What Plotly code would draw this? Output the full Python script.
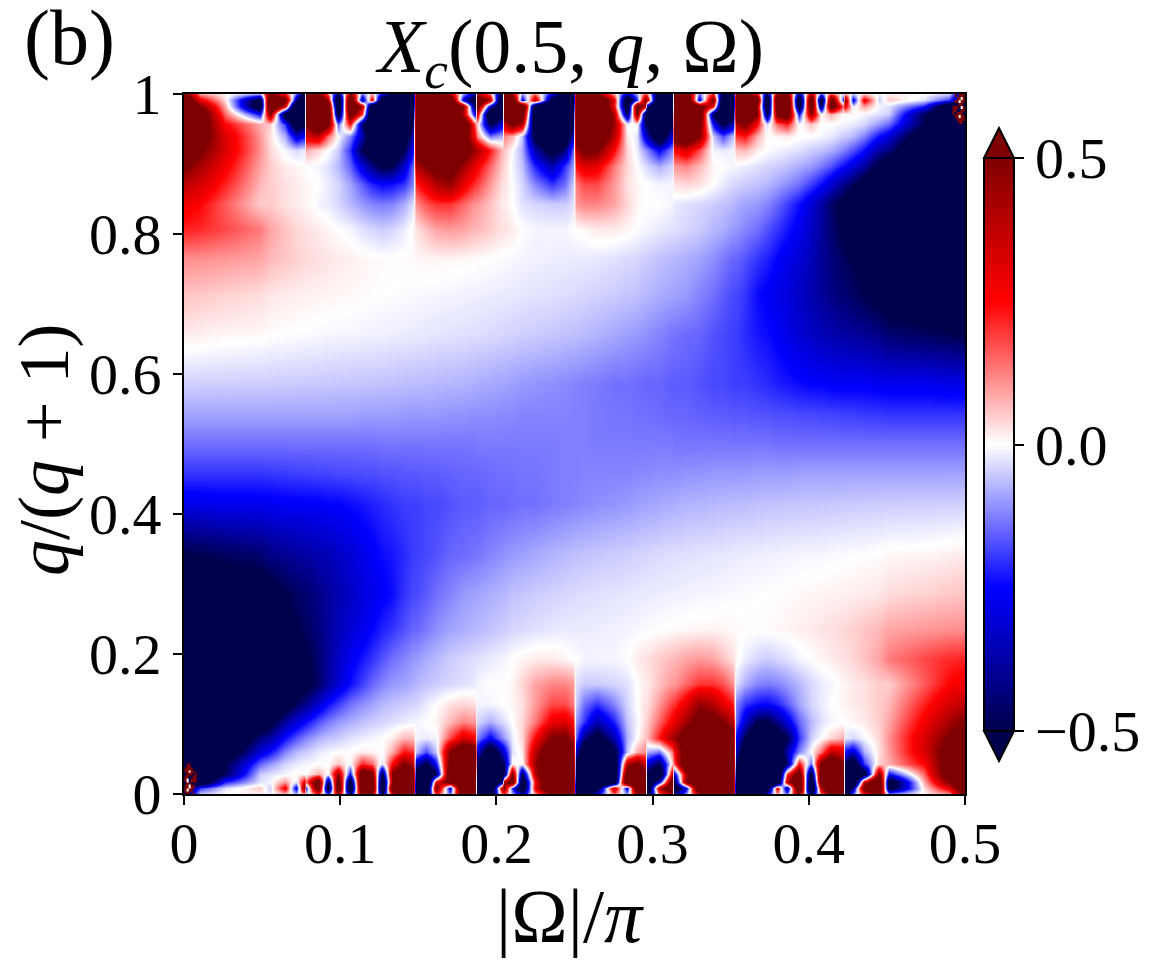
import numpy as np
import plotly.graph_objects as go

# |Omega|/pi positions, packed tighter around the sharp lobe dividers
x_vals = [
    0, .0102, .0262, .0487, .0551, .0647, .0717, .0768, .0781, .0858,
    .0922, .0986, .1063, .1140, .1204, .1268, .1332, .1408, .1466, .1485,
    .1549, .1613, .1703, .1786, .1863, .1876, .1959, .2036, .2049, .2100,
    .2164, .2247, .2356, .2439, .2490, .2510, .2561, .2644, .2753, .2836,
    .2900, .2951, .2964, .3041, .3124, .3137, .3214, .3297, .3387, .3451,
    .3515, .3534, .3592, .3668, .3732, .3796, .3860, .3937, .4014, .4078,
    .4142, .4219, .4232, .4283, .4353, .4449, .4513, .4738, .4898, .5,
]
y_vals = [
    0, .0086, .0171, .0286, .0429, .06, .08, .1029, .1286, .1571, .1929,
    .2357, .2857, .3429, .4143, .4571, .5, .5429, .5857, .6571, .7143, .7643, .8071,
    .8429, .8714, .8971, .92, .94, .9571, .9714, .9829, .9914, 1,
]

# X_c, in hundredths, one row per y value
z_rows = [
    [-50,-5,0,2,-2,6,-6,10,-5,20, -20,40,-40,50,45,-50,30,55,60,-60, -60,25,-15,70,70,-70,-70,15,20,-8, -35,10,50,70,70,-70,-60,-30,15,-10, 40,60,-60,15,40,-40,-10,40,65,70, 70,-70,-70,-50,-30,10,-15,50,-50,15, 55,60,-60,-15,25,50,-10,1,10,60],
    [-60,-20,-3,5,-5,30,-30,50,-20,70, -70,80,-80,85,80,-85,70,85,85,-85, -85,55,-30,90,85,-85,-90,40,50,-20, -75,30,85,90,90,-85,-85,-60,40,-30, 80,85,-85,40,75,-70,-30,80,90,90, 88,-85,-90,-88,-70,30,-40,85,-88,40, 85,85,-88,-40,60,85,-60,3,30,75],
    [-75,-70,-22,-3,-1,10,-3,30,15,70, -50,75,-70,85,70,-75,45,85,80,-75, -90,30,60,90,85,-85,-95,-40,40,70, -70,25,92,95,90,-75,-92,-95,-70,85, 90,70,-70,-30,65,-55,50,90,95,92, 85,-75,-92,-95,-95,-80,40,85,-85,70, 92,80,-85,-90,35,85,-65,8,50,80],
    [-80,-70,-48,-5,-3,-1,1,0,0,8, 0,45,-25,70,55,-55,50,80,70,-60, -85,-50,75,90,80,-70,-90,-65,-55,55, -50,40,90,92,85,-60,-90,-95,-80,70, 85,60,-55,-80,35,-30,40,92,95,90, 80,-60,-90,-95,-95,-88,20,65,-65,75, 90,70,-70,-90,-65,50,-25,15,65,80],
    [-90,-75,-50,-15,-10,-4,-2,-1,-1,0, 0,6,-1,22,15,-4,25,52,40,-35, -52,-25,60,85,75,-50,-85,-50,-45,1, -1,45,85,88,75,-50,-85,-90,-70,40, 55,35,-30,-50,5,15,80,90,92,88, 75,-45,-80,-88,-88,-80,-45,25,-15,55, 75,50,-50,-65,-20,5,8,25,62,75],
    [-95,-85,-65,-30,-24,-12,-7,-5,-5,-2, -1,0,0,2,1,0,8,24,20,-6, -18,-5,50,75,65,-30,-70,-35,-30,-3, 2,38,72,75,60,-35,-68,-80,-55,-6, 8,12,-8,-14,12,25,65,85,88,80, 70,-35,-65,-80,-82,-72,-35,-12,0,14, 38,32,-25,-32,-8,3,10,32,60,70],
    [-95,-90,-75,-43,-38,-24,-17,-13,-12,-8, -6,-5,-3,-2,-1,0,2,7,6,-1, -2,-1,18,32,25,-12,-26,-12,-10,-2, 4,25,52,55,40,-15,-42,-58,-36,-8, 0,6,7,23,42,44,62,78,80,72, 58,-25,-50,-70,-70,-60,-50,-20,-5,0, 4,8,-2,-4,-1,4,11,32,52,62],
    [-95,-93,-87,-60,-55,-38,-30,-25,-24,-17, -13,-10,-8,-6,-5,-4,-3,-2,-1,-1, 0,1,7,12,10,-4,-8,-4,-3,0, 4,13,29,31,24,-10,-20,-36,-22,-6, -1,4,5,15,27,29,44,58,58,50, 40,-15,-32,-50,-52,-42,-30,-15,-7,-3, -1,0,0,1,2,5,9,27,42,52],
    [-90,-90,-87,-75,-70,-58,-48,-42,-41,-31, -24,-19,-14,-11,-9,-7,-6,-5,-4,-4, -2,0,3,4,3,-1,-1,0,0,1, 3,10,18,18,13,-5,-14,-20,-12,-4, 0,3,3,10,19,20,30,46,40,30, 22,-12,-20,-24,-25,-22,-16,-9,-4,-2, 0,1,1,2,3,5,7,22,33,38],
    [-85,-85,-83,-78,-73,-66,-60,-55,-54,-46, -38,-31,-24,-19,-15,-12,-10,-9,-8,-7, -6,-5,-4,-3,-2,-1,0,0,0,1, 4,9,12,12,10,-3,-5,-5,-4,-3, 0,2,2,6,10,10,15,20,20,17, 11,-3,-8,-12,-13,-12,-10,-7,-4,-2, -1,1,1,2,3,5,5,16,25,28],
    [-80,-80,-78,-72,-66,-60,-56,-53,-52,-45, -39,-33,-27,-23,-20,-17,-14,-12,-10,-10, -8,-7,-5,-4,-3,-3,-2,-1,-1,0, 1,2,2,1,0,0,-1,-1,-1,0, 2,3,3,5,7,7,9,10,9,6, 3,1,-2,-4,-5,-4,-3,-1,0,1, 2,3,3,4,6,9,13,18,21,22],
    [-70,-70,-68,-63,-57,-52,-50,-48,-47,-43, -39,-35,-31,-28,-25,-22,-20,-17,-15,-15, -13,-11,-9,-8,-7,-7,-6,-5,-5,-4, -3.6,-3,-2.4,-2.1,-2,-2,-1.9,-1.7,-1.4,-1.1, -.8,-.5,-.4,0,.3,.4,.7,.9,1,.9, .6,.5,.4,.3,.4,.7,1,1.6,2.1,2.6, 3.1,3.8,3.9,4.6,5.6,7,8.8,10,10.8,11],
    [-60,-60,-59,-57,-54,-50,-47,-45,-45,-42, -39,-36,-33,-30,-28,-26,-24,-20,-18,-18, -16,-14,-12,-10,-9,-9,-8,-7,-7,-6, -5.6,-5,-4.4,-3.9,-3.6,-3.5,-3.3,-3,-2.7,-2.4, -2.2,-2,-2,-1.8,-1.5,-1.5,-1.3,-1.1,-.9,-.7, -.5,-.4,-.3,-.1,0,.2,.4,.7,.9,1.1, 1.3,1.5,1.6,1.8,2,2.4,3.5,4.5,5.5,6],
    [-50,-49,-47,-45,-42,-40,-39,-38,-38,-36, -35,-33,-31,-28,-26,-24,-23,-21,-19,-19, -18,-17,-15,-14.5,-13.5,-13.5,-12,-11,-10.5,-10, -9.5,-8.5,-7.5,-6.8,-6.4,-6.2,-6,-5.5,-5,-4.7, -4.3,-4.1,-4,-3.6,-3.3,-3.2,-3,-2.8,-2.5,-2.3, -2.1,-2,-1.9,-1.7,-1.5,-1.4,-1.2,-1,-.9,-.8, -.6,-.4,-.4,-.2,0,.3,.7,1,1.5,2],
    [-28,-28,-27,-27,-27,-26,-26,-26,-26,-26, -25,-25,-24,-23,-22,-21,-20,-19,-19,-19, -18,-18,-17,-16,-16,-16,-15,-15,-15,-14.5, -14,-14,-13,-12.5,-12,-12,-11.5,-11,-10.5,-10, -9.5,-9,-9,-8.5,-8,-8,-7.5,-7.2,-7,-6.8, -6.6,-6.6,-6.4,-6.2,-6,-5.9,-5.8,-5.7,-5.6,-5.5, -5.4,-5.3,-5.3,-5.2,-5.1,-5,-4.9,-4.8,-4.7,-4.6],
    [-20,-20,-20,-20,-19.5,-19.5,-19,-19,-19,-18.5, -18.5,-18,-18,-17.5,-17.5,-17,-17,-16.5,-16.5,-16.5, -16,-16,-15.5,-15,-15,-15,-14.5,-14,-14,-14, -13.5,-13.5,-13,-12.5,-12.5,-12.5,-12,-12,-12,-12, -11.5,-11.5,-11.5,-11,-11,-11,-10.5,-10.5,-10,-10, -10,-10,-10,-9.5,-9.5,-9.5,-9.5,-9,-9,-9, -9,-9,-9,-9,-9,-9,-9,-9,-9,-9],
    [-14,-14,-14,-14,-14,-14,-14,-14,-14,-14, -14,-14,-14,-14,-14,-13.5,-13.5,-13.5,-13.5,-13.5, -13.5,-13.5,-13.5,-13.5,-13.5,-13,-13,-13,-13,-13, -13,-13,-13,-12.5,-12.5,-12.5,-12.5,-13,-13,-13, -13,-13,-13,-13,-13,-13.5,-13.5,-13.5,-13.5,-13.5, -13.5,-13.5,-13.5,-13.5,-13.5,-14,-14,-14,-14,-14, -14,-14,-14,-14,-14,-14,-14,-14,-14,-14],
    [-9,-9,-9,-9,-9,-9,-9,-9,-9,-9, -9,-9,-9,-9.5,-9.5,-9.5,-9.5,-10,-10,-10, -10,-10,-10.5,-10.5,-11,-11,-11,-11.5,-11.5,-11.5, -12,-12,-12,-12,-12.5,-12.5,-12.5,-13,-13.5,-13.5, -14,-14,-14,-14.5,-15,-15,-15,-15.5,-16,-16, -16.5,-16.5,-16.5,-17,-17,-17.5,-17.5,-18,-18,-18.5, -18.5,-19,-19,-19,-19.5,-19.5,-20,-20,-20,-20],
    [-4.6,-4.7,-4.8,-4.9,-5,-5.1,-5.2,-5.3,-5.3,-5.4, -5.5,-5.6,-5.7,-5.8,-5.9,-6,-6.2,-6.4,-6.6,-6.6, -6.8,-7,-7.2,-7.5,-8,-8,-8.5,-9,-9,-9.5, -10,-10.5,-11,-11.5,-12,-12,-12.5,-13,-14,-14, -14.5,-15,-15,-15,-16,-16,-16,-17,-18,-18, -19,-19,-19,-20,-21,-22,-23,-24,-25,-25, -26,-26,-26,-26,-26,-27,-27,-27,-28,-28],
    [2,1.5,1,.7,.3,0,-.2,-.4,-.4,-.6, -.8,-.9,-1,-1.2,-1.4,-1.5,-1.7,-1.9,-2,-2.1, -2.3,-2.5,-2.8,-3,-3.2,-3.3,-3.6,-4,-4.1,-4.3, -4.7,-5,-5.5,-6,-6.2,-6.4,-6.8,-7.5,-8.5,-9.5, -10,-10.5,-11,-12,-13.5,-13.5,-14.5,-15,-17,-18, -19,-19,-21,-23,-24,-26,-28,-31,-33,-35, -36,-38,-38,-39,-40,-42,-45,-47,-49,-50],
    [6,5.5,4.5,3.5,2.4,2,1.8,1.6,1.5,1.3, 1.1,.9,.7,.4,.2,0,-.1,-.3,-.4,-.5, -.7,-.9,-1.1,-1.3,-1.5,-1.5,-1.8,-2,-2,-2.2, -2.4,-2.7,-3,-3.3,-3.5,-3.6,-3.9,-4.4,-5,-5.6, -6,-7,-7,-8,-9,-9,-10,-12,-14,-16, -18,-18,-20,-24,-26,-28,-30,-33,-36,-39, -42,-45,-45,-47,-50,-54,-57,-59,-60,-60],
    [11,10.8,10,8.8,7,5.6,4.6,3.9,3.8,3.1, 2.6,2.1,1.6,1,.7,.4,.3,.4,.5,.6, .9,1,.9,.7,.4,.3,0,-.4,-.5,-.8, -1.1,-1.4,-1.7,-1.9,-2,-2,-2.1,-2.4,-3,-3.6, -4,-5,-5,-6,-7,-7,-8,-9,-11,-13, -15,-15,-17,-20,-22,-25,-28,-31,-35,-39, -43,-47,-48,-50,-52,-57,-63,-68,-70,-70],
    [22,21,18,13,9,6,4,3,3,2, 1,0,-1,-3,-4,-5,-4,-2,1,3, 6,9,10,9,7,7,5,3,3,2, 0,-1,-1,-1,0,0,1,2,2,1, 0,-1,-1,-2,-3,-3,-4,-5,-7,-8, -10,-10,-12,-14,-17,-20,-23,-27,-33,-39, -45,-52,-53,-56,-60,-66,-72,-78,-80,-80],
    [28,25,16,5,5,3,2,1,1,-1, -2,-4,-7,-10,-12,-13,-12,-8,-3,11, 17,20,20,15,10,10,6,2,2,0, -3,-4,-5,-5,-3,10,12,12,9,4, 1,0,0,0,-1,-2,-3,-4,-5,-6, -7,-8,-9,-10,-12,-15,-19,-24,-31,-38, -46,-54,-55,-60,-66,-73,-78,-83,-85,-85],
    [38,33,22,7,5,3,2,1,1,0, -2,-4,-9,-16,-22,-25,-24,-20,-12,22, 30,40,46,30,20,19,10,3,3,0, -4,-12,-20,-14,-5,13,18,18,10,3, 1,0,0,-1,-1,3,4,3,0,-2, -4,-4,-5,-6,-7,-9,-11,-14,-19,-24, -31,-41,-42,-48,-58,-70,-75,-87,-90,-90],
    [52,42,27,9,5,2,1,0,0,-1, -3,-7,-15,-30,-42,-52,-50,-32,-15,40, 50,58,58,44,29,27,15,5,4,-1, -6,-22,-36,-20,-10,24,31,29,13,4, 0,-3,-4,-8,-4,10,12,7,1,0, -1,-1,-2,-3,-4,-5,-6,-8,-10,-13, -17,-24,-25,-30,-38,-55,-60,-87,-93,-95],
    [62,52,32,11,4,-1,-4,-2,8,4, 0,-5,-20,-50,-60,-70,-70,-50,-25,58, 72,80,78,62,44,42,23,7,6,0, -8,-36,-58,-42,-15,40,55,52,25,4, -2,-10,-12,-26,-12,25,32,18,-1,-2, -1,6,7,2,0,-1,-2,-3,-5,-6, -8,-12,-13,-17,-24,-38,-43,-75,-90,-95],
    [70,60,32,10,3,-8,-32,-25,32,38, 14,0,-12,-35,-72,-82,-80,-65,-35,70, 80,88,85,65,25,12,-14,-8,12,8, -6,-55,-80,-68,-35,60,75,72,38,2, -3,-30,-35,-70,-30,65,75,50,-5,-18, -6,20,24,8,0,1,2,0,0,-1, -2,-5,-5,-7,-12,-24,-30,-65,-85,-95],
    [75,62,25,8,5,-20,-65,-50,50,75, 55,-15,25,-45,-80,-88,-88,-80,-45,75, 88,92,90,80,15,5,-50,-30,35,55, 40,-70,-90,-85,-50,75,88,85,45,-1, 1,-45,-50,-85,-50,75,85,60,-25,-52, -35,40,52,25,-4,15,22,-1,6,0, 0,-1,-1,-2,-4,-10,-15,-50,-75,-90],
    [80,65,15,-25,50,-65,-90,-70,70,90, 75,-65,65,20,-88,-95,-95,-90,-60,80, 90,95,92,40,-30,35,-80,-55,60,85, 70,-80,-95,-90,-60,85,92,90,40,-50, 55,-55,-65,-90,-70,80,90,75,-50,-85, -60,70,80,50,-55,55,70,-25,45,0, 8,0,0,1,-1,-3,-5,-48,-70,-80],
    [80,50,8,-65,85,35,-90,-85,80,92, 70,-85,85,40,-80,-95,-95,-92,-75,85, 92,95,90,50,-55,65,-30,-70,70,90, 85,-70,-95,-92,-75,90,95,92,25,-70, 70,40,-40,-95,-85,85,90,60,30,-90, -75,80,85,45,-75,70,85,-70,75,-50, 70,15,30,-3,10,-1,-3,-22,-70,-75],
    [75,30,3,-60,85,60,-40,-88,85,85, 40,-88,85,-40,30,-70,-88,-90,-85,88, 90,90,80,-30,-70,75,40,-85,85,80, -30,40,-60,-85,-85,90,90,85,30,-75, -20,50,40,-90,-85,85,90,-30,55,-85, -85,85,85,70,-85,80,85,-80,80,-70, 70,-20,50,-30,30,-5,5,-3,-20,-60],
    [60,10,1,-10,50,25,-15,-60,60,55, 15,-50,50,-15,10,-30,-50,-70,-70,70, 70,65,40,-10,-40,40,15,-60,60,40, -10,15,-30,-60,-70,70,70,50,10,-35, -8,20,15,-70,-70,70,70,-15,25,-60, -60,60,55,30,-50,45,50,-40,40,-20, 20,-5,10,-6,6,-2,2,0,-5,-50],
]

# noisy specks in two corners of the map, None leaves the map showing through
speck_x_low = [.0010, .0022, .0035, .0048, .0061, .0074, .0086]
speck_y_low = [.002, .006, .011, .015, .019, .024, .028, .032, .036, .041]
speck_z_low = [
    [.5, .5, .5, None, .5, None, None],
    [.5, 0, .5, .5, None, None, None],
    [.5, .5, 0, .5, .5, None, None],
    [None, .5, .5, None, None, None, None],
    [.5, 0, None, .5, .5, .5, None],
    [.5, .5, None, None, .5, .5, None],
    [None, .5, .5, .5, None, .5, None],
    [.5, .5, 0, .5, .5, None, None],
    [.5, .5, .5, .5, None, None, None],
    [None, .5, .5, None, None, None, None],
]
speck_x_high = [.4914, .4926, .4939, .4952, .4965, .4978, .4990]
speck_y_high = [.959, .964, .968, .972, .976, .981, .985, .989, .994, .998]
speck_z_high = [
    [None, None, None, None, .5, .5, None],
    [None, None, None, .5, .5, .5, .5],
    [None, None, .5, .5, 0, .5, .5],
    [None, .5, None, .5, .5, .5, None],
    [None, .5, .5, None, None, .5, .5],
    [None, .5, .5, .5, None, 0, .5],
    [None, None, None, None, .5, .5, None],
    [None, None, .5, .5, 0, .5, .5],
    [None, None, None, .5, .5, 0, .5],
    [None, None, .5, None, .5, .5, .5],
]

x_ticks = [0, 0.1, 0.2, 0.3, 0.4, 0.5]
x_labels = ['0', '0.1', '0.2', '0.3', '0.4', '0.5']
y_ticks = [0, 0.2, 0.4, 0.6, 0.8, 1]
y_labels = ['0', '0.2', '0.4', '0.6', '0.8', '1']
bar_ticks = [-0.5, 0, 0.5]
bar_labels = ['\u22120.5', '0.0', '0.5']

SERIF = 'Liberation Serif'
NAVY = '#00004c'
MAROON = '#7f0000'
seismic = [[0, NAVY], [0.25, '#0000ff'], [0.5, '#ffffff'], [0.75, '#ff0000'], [1, MAROON]]

# plot box in page pixels, the page body adds 8px round the figure
W, H = 1151, 952
PAD = 8
L, R, T, B = 184, 965, 94, 794


def px(x):
    return (x - L) / (R - L)


def py(y):
    return (B - y) / (B - T)


fig = go.Figure()
fig.add_heatmap(
    x=x_vals, y=y_vals, z=np.array(z_rows) / 100,
    zmin=-0.5, zmax=0.5, zsmooth='best', colorscale=seismic,
    colorbar=dict(
        thickness=30, thicknessmode='pixels', len=573, lenmode='pixels',
        x=px(984), xanchor='left', xpad=0, y=py(444.5), yanchor='middle', ypad=0,
        outlinecolor='black', outlinewidth=2,
        tickvals=bar_ticks, ticktext=bar_labels, ticks='outside', ticklen=9,
        tickwidth=2, tickcolor='black',
        tickfont=dict(family=SERIF, size=58, color='black'),
    ),
)
for sx, sy, sz in [(speck_x_low, speck_y_low, speck_z_low), (speck_x_high, speck_y_high, speck_z_high)]:
    fig.add_heatmap(x=sx, y=sy, z=sz, zmin=-0.5, zmax=0.5, colorscale=seismic, showscale=False)

# colorbar extend arrows
fig.add_shape(type='path', xref='paper', yref='paper', fillcolor=MAROON,
              line=dict(color='black', width=2),
              path=f'M {px(984)} {py(158)} L {px(999)} {py(128)} L {px(1014)} {py(158)} Z')
fig.add_shape(type='path', xref='paper', yref='paper', fillcolor=NAVY,
              line=dict(color='black', width=2),
              path=f'M {px(984)} {py(731)} L {px(999)} {py(761)} L {px(1014)} {py(731)} Z')

fig.update_layout(
    width=W, height=H,
    margin=dict(l=L - PAD, r=W + PAD - R, t=T - PAD, b=H + PAD - B),
    paper_bgcolor='white', plot_bgcolor='white',
    font=dict(family=SERIF, color='black'),
    title=dict(text='<i>X</i><sub><i>c</i></sub>(0.5, <i>q</i>, \u03a9)', font=dict(size=76),
               x=px(571), xref='paper', xanchor='center', y=1 - (72 - PAD) / H, yanchor='bottom'),
    xaxis=dict(range=[0, 0.5], tickvals=x_ticks, ticktext=x_labels, ticks='outside', ticklen=9,
               tickwidth=2, tickcolor='black', showline=True, linecolor='black', linewidth=2,
               mirror=True, showgrid=False, zeroline=False, ticklabelstandoff=-12,
               tickfont=dict(size=58)),
    yaxis=dict(range=[0, 1], tickvals=y_ticks, ticktext=y_labels, ticks='outside', ticklen=9,
               tickwidth=2, tickcolor='black', showline=True, linecolor='black', linewidth=2,
               mirror=True, showgrid=False, zeroline=False,
               tickfont=dict(size=58)),
    annotations=[
        dict(text='(b)', xref='paper', yref='paper', x=px(70), y=py(38),
             xanchor='center', yanchor='middle', showarrow=False, font=dict(size=78)),
        dict(text='|\u03a9|/<i>\u03c0</i>', xref='paper', yref='paper', x=px(570), y=py(916),
             xanchor='center', yanchor='middle', showarrow=False, font=dict(size=76)),
        dict(text='<i>q</i>/(<i>q</i> + 1)', xref='paper', yref='paper', x=px(44), y=py(450),
             xanchor='center', yanchor='middle', textangle=-90, showarrow=False, font=dict(size=72)),
    ],
)

fig.write_html("out.html")
